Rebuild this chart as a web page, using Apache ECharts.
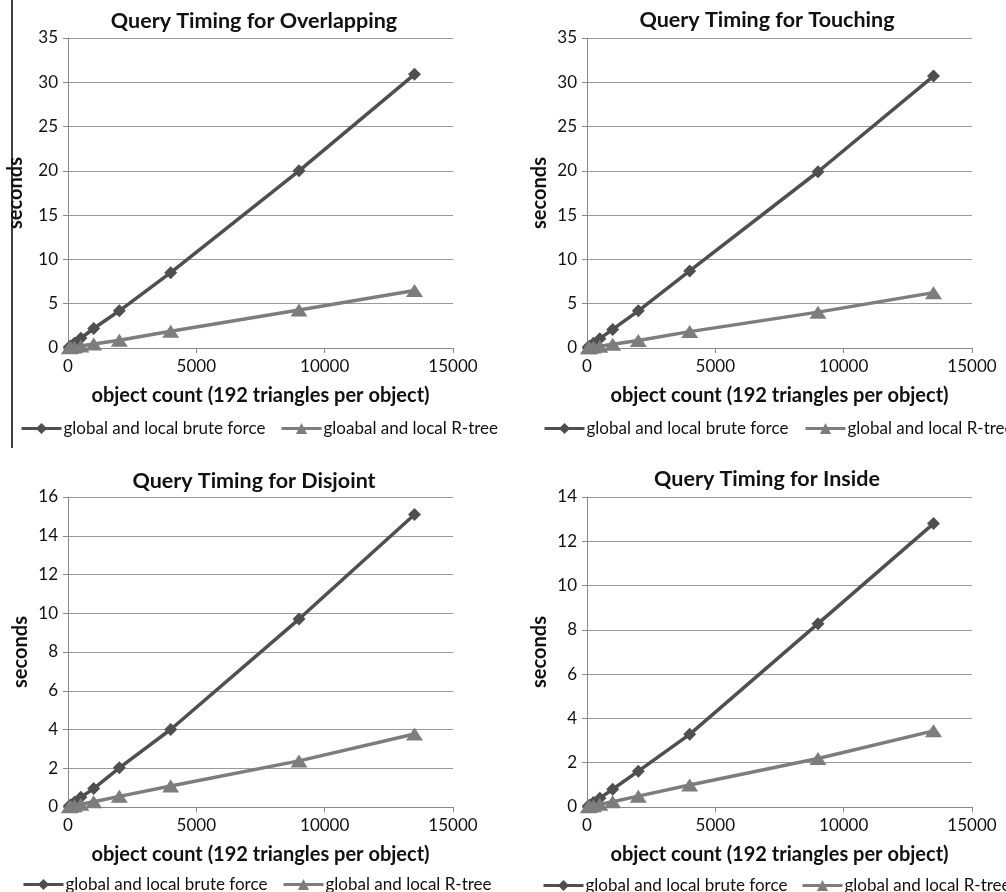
<!DOCTYPE html>
<html>
<head>
<meta charset="utf-8">
<script src="https://cdn.jsdelivr.net/npm/echarts@6/dist/echarts.min.js"></script>
<style>html,body{margin:0;padding:0;background:#fff;}#c{width:1006px;height:892px;}</style>
</head>
<body>
<div id="c"></div>
<script>
// object counts (x values)
const objectCounts = [50, 100, 250, 500, 1000, 2000, 4000, 9000, 13500];

const titles = ["Query Timing for Overlapping", "Query Timing for Touching", "Query Timing for Disjoint", "Query Timing for Inside"];
const bruteNames = ["global and local brute force", "global and local brute force", "global and local brute force", "global and local brute force"];
const rtreeNames = ["gloabal and local R-tree", "global and local R-tree", "global and local R-tree", "global and local R-tree"];

const overlapBrute = [0.11, 0.22, 0.55, 1.1, 2.2, 4.2, 8.5, 20.0, 30.9];
const overlapRtree = [0.02, 0.05, 0.11, 0.22, 0.45, 0.88, 1.9, 4.3, 6.5];
const touchBrute   = [0.11, 0.21, 0.53, 1.05, 2.1, 4.2, 8.7, 19.9, 30.7];
const touchRtree   = [0.02, 0.04, 0.1, 0.21, 0.42, 0.85, 1.85, 4.05, 6.25];
const disjointBrute = [0.05, 0.1, 0.25, 0.5, 0.95, 2.02, 4.0, 9.7, 15.1];
const disjointRtree = [0.01, 0.03, 0.07, 0.14, 0.27, 0.55, 1.08, 2.38, 3.77];
const insideBrute  = [0.04, 0.08, 0.2, 0.4, 0.8, 1.62, 3.28, 8.28, 12.8];
const insideRtree  = [0.01, 0.02, 0.06, 0.12, 0.24, 0.49, 0.99, 2.19, 3.44];

const yMax = [35, 35, 16, 14];
const yInterval = [5, 5, 2, 2];
const xTicks = [0, 15000, 5000];

const bruteData = [overlapBrute, touchBrute, disjointBrute, insideBrute];
const rtreeData = [overlapRtree, touchRtree, disjointRtree, insideRtree];

const FONT = 'Lato';
const grids = [
  {left: 68, top: 38, width: 385, height: 310},
  {left: 587, top: 38, width: 385, height: 310},
  {left: 68, top: 497, width: 385, height: 310},
  {left: 587, top: 497, width: 385, height: 310}
];
const titlePos = [{x: 249, y: 16}, {x: 762, y: 15}, {x: 249, y: 476}, {x: 762, y: 474}];
const bruteLegendPos = [{x: 15, y: 426}, {x: 538, y: 426}, {x: 17, y: 882}, {x: 537, y: 883}];
const rtreeLegendPos = [{x: 275, y: 426}, {x: 799, y: 426}, {x: 277, y: 882}, {x: 796, y: 883}];
const yNameGap = [42, 37, 37, 37];

function legendAt(pos, name) {
  return {
    left: pos.x, top: pos.y - 11,
    data: [name],
    itemWidth: 40, itemHeight: 14, itemGap: 18,
    lineStyle: {width: 3},
    textStyle: {fontFamily: FONT, fontSize: 17, color: '#111', padding: [0,0,0,-3]}
  };
}

const option = {
  animation: false,
  backgroundColor: '#fff',
  title: titles.map((t, i) => ({
    text: t, left: titlePos[i].x, top: titlePos[i].y, textAlign: 'center', textVerticalAlign: 'middle',
    textStyle: {fontFamily: FONT, fontWeight: 'bold', fontSize: 21.5, color: '#111'}
  })),
  grid: grids,
  legend: [0,1,2,3].map(i => legendAt(bruteLegendPos[i], bruteNames[i]))
    .concat([0,1,2,3].map(i => legendAt(rtreeLegendPos[i], rtreeNames[i]))),
  xAxis: [0,1,2,3].map(i => ({
    type: 'value', gridIndex: i, min: xTicks[0], max: xTicks[1], interval: xTicks[2],
    name: 'object count (192 triangles per object)', nameLocation: 'middle', nameGap: 38,
    nameTextStyle: {fontFamily: FONT, fontWeight: 'bold', fontSize: 20, color: '#111'},
    axisLine: {lineStyle: {color: '#888', width: 1}},
    axisTick: {show: true, length: 5, lineStyle: {color: '#888'}},
    axisLabel: {fontFamily: FONT, fontSize: 17, color: '#111', margin: 10, formatter: v => String(v)},
    splitLine: {show: false}
  })),
  yAxis: [0,1,2,3].map(i => ({
    type: 'value', gridIndex: i, min: 0, max: yMax[i], interval: yInterval[i],
    name: 'seconds', nameLocation: 'middle', nameGap: yNameGap[i], nameRotate: 90,
    nameTextStyle: {fontFamily: FONT, fontWeight: 'bold', fontSize: 20, color: '#111'},
    axisLine: {show: true, lineStyle: {color: '#888', width: 1}},
    axisTick: {show: true, length: 5, lineStyle: {color: '#888'}},
    axisLabel: {fontFamily: FONT, fontSize: 17, color: '#111', margin: 10},
    splitLine: {show: true, lineStyle: {color: '#9a9a9a', width: 1}}
  })),
  series: [].concat(...[0,1,2,3].map(i => ([
    {
      name: bruteNames[i], type: 'line', xAxisIndex: i, yAxisIndex: i,
      data: objectCounts.map((x, k) => [x, bruteData[i][k]]),
      symbol: 'diamond', symbolSize: 13,
      lineStyle: {color: '#4f4f4f', width: 3.5},
      itemStyle: {color: '#4f4f4f'}
    },
    {
      name: rtreeNames[i], type: 'line', xAxisIndex: i, yAxisIndex: i,
      data: objectCounts.map((x, k) => [x, rtreeData[i][k]]),
      symbol: 'triangle', symbolSize: [17, 13],
      lineStyle: {color: '#7d7d7d', width: 3.5},
      itemStyle: {color: '#7d7d7d'}
    }
  ]))),
  graphic: [{
    type: 'line', shape: {x1: 12, y1: 0, x2: 12, y2: 448},
    style: {stroke: '#000', lineWidth: 1.5}
  }]
};
const chart = echarts.init(document.getElementById('c'));
chart.setOption(option);
</script>
</body>
</html>
